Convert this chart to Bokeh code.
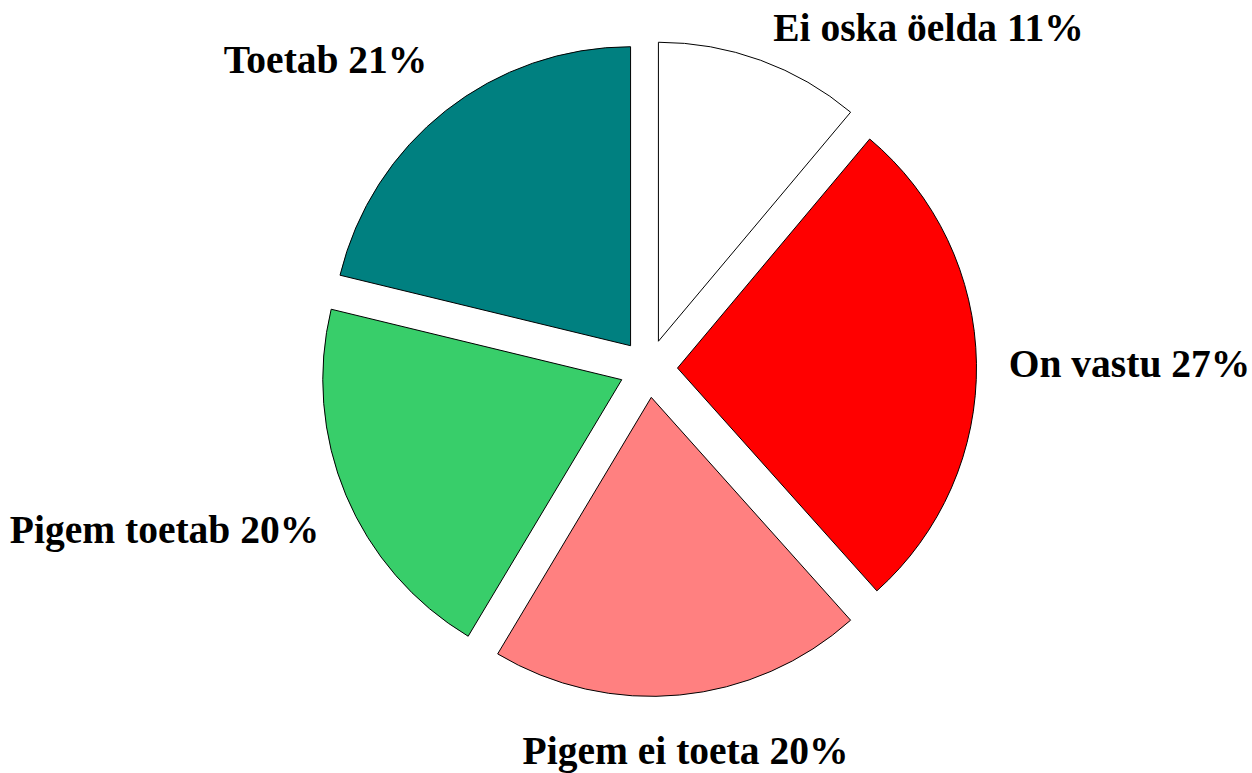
import math
from bokeh.plotting import figure
from bokeh.models import Range1d, ColumnDataSource
from bokeh.core.properties import value
from bokeh.embed import file_html
from bokeh.resources import INLINE

# ---- data ----
categories = ["Ei oska öelda", "On vastu", "Pigem ei toeta", "Pigem toetab", "Toetab"]
shares = [11, 27, 20, 20, 21]
colors = ["#FFFFFF", "#FF0000", "#FF8080", "#38CE6A", "#008080"]

# ---- layout (screen pixel coordinates) ----
W, H = 1252, 773
center_screen = (648, 368)
radius = 299
explode = 29
# label anchor (center x, baseline y) in screen pixels
label_pos = [(928, 27), (1129, 363), (685, 750), (164, 529), (325, 59)]
font_size = "39.5px"

def sy(y):
    return H - y

p = figure(width=W, height=H, x_range=Range1d(0, W), y_range=Range1d(0, H),
           output_backend="svg", toolbar_location=None, min_border=0)
p.axis.visible = False
p.xgrid.visible = False
p.ygrid.visible = False
p.outline_line_color = None
p.background_fill_color = "white"
p.border_fill_color = "white"

total = float(sum(shares))
cx, cy = center_screen[0], sy(center_screen[1])
xs, ys, starts, ends = [], [], [], []
acc = 0.0
for s in shares:
    t1 = acc / total * 2 * math.pi
    acc += s
    t2 = acc / total * 2 * math.pi
    tm = (t1 + t2) / 2
    xs.append(cx + explode * math.sin(tm))
    ys.append(cy + explode * math.cos(tm))
    starts.append(math.pi / 2 - t2)
    ends.append(math.pi / 2 - t1)

src = ColumnDataSource(dict(x=xs, y=ys, start=starts, end=ends, color=colors))
p.wedge(x="x", y="y", radius=radius, start_angle="start", end_angle="end",
        direction="anticlock", fill_color="color", line_color="black",
        line_width=1, source=src)

labels = [f"{c} {s}%" for c, s in zip(categories, shares)]
lsrc = ColumnDataSource(dict(x=[lp[0] for lp in label_pos],
                             y=[sy(lp[1]) for lp in label_pos],
                             text=labels))
p.text(x="x", y="y", text="text", source=lsrc, text_align="center",
       text_baseline="alphabetic", text_font=value("Liberation Serif"),
       text_font_style="bold", text_font_size=font_size, text_color="black")

open("out.html", "w").write(file_html(p, INLINE))
